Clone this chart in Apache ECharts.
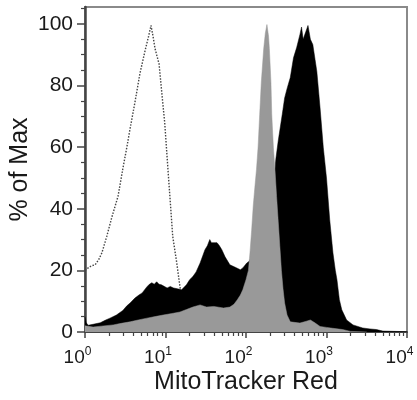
<!DOCTYPE html>
<html>
<head>
<meta charset="utf-8">
<script src="https://cdn.jsdelivr.net/npm/echarts@6/dist/echarts.min.js"></script>
<style>
  html, body { margin: 0; padding: 0; background: #fff; }
  #chart { width: 417px; height: 400px; }
</style>
</head>
<body>
<div id="chart"></div>
<script>
// x positions are in decades (log10 of the MitoTracker Red intensity)
var unstainedLog = [0.00, 0.04, 0.08, 0.125, 0.17, 0.21, 0.27, 0.335, 0.41, 0.47, 0.52, 0.56, 0.62, 0.683, 0.745, 0.79, 0.82, 0.845, 0.87, 0.92, 0.96, 0.99, 1.03, 1.06, 1.09, 1.14, 1.18, 1.22, 1.28, 1.36, 1.5];
var unstainedPct = [20, 20.8, 21.5, 21.8, 23.5, 25.7, 31, 37.4, 44, 53, 60, 66, 74.5, 84, 91.2, 96, 99.5, 96, 92, 87, 76, 68, 53, 42, 31, 22.4, 14.6, 9, 5, 2, 0.5];

var blackLog = [0.0, 0.015, 0.04, 0.1, 0.19, 0.25, 0.31, 0.39, 0.47, 0.52, 0.56, 0.62, 0.67, 0.71, 0.77, 0.8, 0.83, 0.86, 0.89, 0.92, 0.95, 1.02, 1.06, 1.10, 1.15, 1.20, 1.26, 1.30, 1.34, 1.38, 1.43, 1.49, 1.52, 1.55, 1.57, 1.59, 1.64, 1.67, 1.70, 1.74, 1.80, 1.86, 1.93, 1.96, 2.01, 2.04, 2.10, 2.20, 2.30, 2.35, 2.37, 2.40, 2.45, 2.48, 2.51, 2.55, 2.59, 2.63, 2.67, 2.69, 2.71, 2.73, 2.77, 2.80, 2.83, 2.88, 2.92, 2.96, 3.0, 3.04, 3.08, 3.11, 3.13, 3.16, 3.19, 3.25, 3.33, 3.45, 3.54, 3.62, 3.7, 3.85, 4.0];
var blackPct = [5, 3, 2.2, 2.5, 3, 3.8, 4.5, 5.5, 7, 8.5, 9.4, 11, 12, 12.7, 14.7, 15.5, 16, 15.5, 16.3, 15.5, 15.3, 14.3, 14.8, 14.3, 14, 13.7, 15.3, 17, 18, 19.5, 22.4, 26.7, 28, 30, 29, 29.5, 29, 28, 26.7, 24.4, 21.8, 21.1, 20.2, 20.8, 22.4, 23, 26, 32, 42, 50, 56, 62, 70.6, 76, 79, 82.6, 89, 92.4, 96.6, 99, 95, 95.5, 99.5, 95, 93.3, 84.6, 72.8, 60, 50, 36.4, 25.7, 20, 17, 10.5, 7.2, 3.9, 2.3, 1.3, 1, 0.8, 0.3, 0.2, 0.1];

var grayLog = [0.0, 0.02, 0.1, 0.2, 0.35, 0.45, 0.56, 0.66, 0.77, 0.87, 0.97, 1.08, 1.18, 1.26, 1.34, 1.43, 1.51, 1.6, 1.72, 1.80, 1.85, 1.89, 1.93, 1.96, 2.0, 2.03, 2.05, 2.07, 2.09, 2.11, 2.13, 2.15, 2.17, 2.19, 2.22, 2.24, 2.26, 2.28, 2.29, 2.31, 2.32, 2.34, 2.36, 2.38, 2.40, 2.42, 2.44, 2.46, 2.48, 2.51, 2.55, 2.67, 2.75, 2.80, 2.86, 2.92, 3.0, 3.08, 3.2, 3.3, 3.5];
var grayPct = [2, 1.5, 1.6, 1.9, 2.3, 2.8, 3.3, 3.9, 4.5, 5, 5.5, 6, 6.5, 7.3, 8.1, 8.8, 8.1, 8.3, 7.8, 8.1, 9, 10.4, 12, 13.7, 17, 20, 26, 33, 41, 47, 52.7, 60, 70.6, 81, 92, 97, 99.8, 96, 92, 81, 70.6, 60, 52.7, 44, 36, 28, 20, 14, 9.4, 5.5, 3.3, 2.9, 3.5, 3.9, 2.9, 1.8, 1.5, 1.2, 0.8, 0.2, 0];

var yLabels = [0, 20, 40, 60, 80, 100];
var yMinor = [5, 10, 15, 25, 30, 35, 45, 50, 55, 65, 70, 75, 85, 90, 95, 105];
var xMajor = [0, 1, 2, 3, 4];
var xMinorMult = [2, 3, 4, 5, 6, 7, 8, 9];

var pairs = function(xs, ys) {
    var out = [];
    for (var i = 0; i < xs.length; i++) out.push([xs[i], ys[i]]);
    return out;
};

var xMinor = [];
for (var d = 0; d < 4; d++) {
    for (var k = 0; k < xMinorMult.length; k++) {
        xMinor.push(d + Math.log10(xMinorMult[k]));
    }
}

var axisColor = '#444';
var font = 'Liberation Sans, Arial, sans-serif';

var chart = echarts.init(document.getElementById('chart'));
var option = {
    animation: false,
    backgroundColor: '#fff',
    grid: {
        left: 85, right: 10, top: 7, bottom: 68,
        outerBoundsMode: 'none', containLabel: false,
        show: true, borderColor: '#8a8a8a', borderWidth: 2
    },
    xAxis: [{
        type: 'value', min: 0, max: 4, interval: 1,
        name: 'MitoTracker Red', nameLocation: 'middle', nameGap: 38, nameMoveOverlap: false,
        nameTextStyle: { fontFamily: font, fontSize: 25, color: '#1a1a1a' },
        axisLine: { lineStyle: { color: axisColor, width: 2 } },
        axisTick: { customValues: xMajor, length: 6, lineStyle: { color: axisColor, width: 1.5 } },
        splitLine: { show: false },
        axisLabel: {
            customValues: xMajor, margin: 14, padding: [0, 15, 0, 0],
            formatter: function(v) { return '{b|10}{e|' + v + '}'; },
            rich: {
                b: { fontFamily: font, fontSize: 19, color: '#1a1a1a', verticalAlign: 'bottom' },
                e: { fontFamily: font, fontSize: 12, color: '#1a1a1a', verticalAlign: 'top', padding: [0, 0, 9, 0] }
            }
        }
    }, {
        type: 'value', min: 0, max: 4, position: 'bottom',
        axisLine: { show: false },
        axisTick: { customValues: xMinor, length: 4, lineStyle: { color: axisColor, width: 1.2 } },
        axisLabel: { show: false },
        splitLine: { show: false }
    }],
    yAxis: [{
        type: 'value', min: 0, max: 105.5,
        name: '% of Max', nameLocation: 'middle', nameGap: 52, nameRotate: 90, nameMoveOverlap: false,
        nameTextStyle: { fontFamily: font, fontSize: 25, color: '#1a1a1a' },
        axisLine: { show: true, lineStyle: { color: axisColor, width: 2.5 } },
        axisTick: { show: true, customValues: yLabels, length: 8, lineStyle: { color: axisColor, width: 1.5 } },
        splitLine: { show: false },
        axisLabel: {
            customValues: yLabels, margin: 12,
            fontFamily: font, fontSize: 21, color: '#1a1a1a'
        }
    }, {
        type: 'value', min: 0, max: 105.5, position: 'left',
        axisLine: { show: false },
        axisTick: { show: true, customValues: yMinor, length: 4, lineStyle: { color: axisColor, width: 1.2 } },
        axisLabel: { show: false },
        splitLine: { show: false }
    }],
    series: [{
        name: 'unstained', type: 'line', data: pairs(unstainedLog, unstainedPct),
        symbol: 'none', silent: true, z: 1,
        lineStyle: { color: '#444', width: 1.4, type: [1.5, 1.5] }
    }, {
        name: 'stained', type: 'line', data: pairs(blackLog, blackPct),
        symbol: 'none', silent: true, z: 2,
        lineStyle: { color: '#000', width: 0.5 },
        areaStyle: { color: '#000', opacity: 1 }
    }, {
        name: 'treated', type: 'line', data: pairs(grayLog, grayPct),
        symbol: 'none', silent: true, z: 3,
        lineStyle: { color: '#999', width: 0.5 },
        areaStyle: { color: '#999', opacity: 1 }
    }]
};
chart.setOption(option);
</script>
</body>
</html>
